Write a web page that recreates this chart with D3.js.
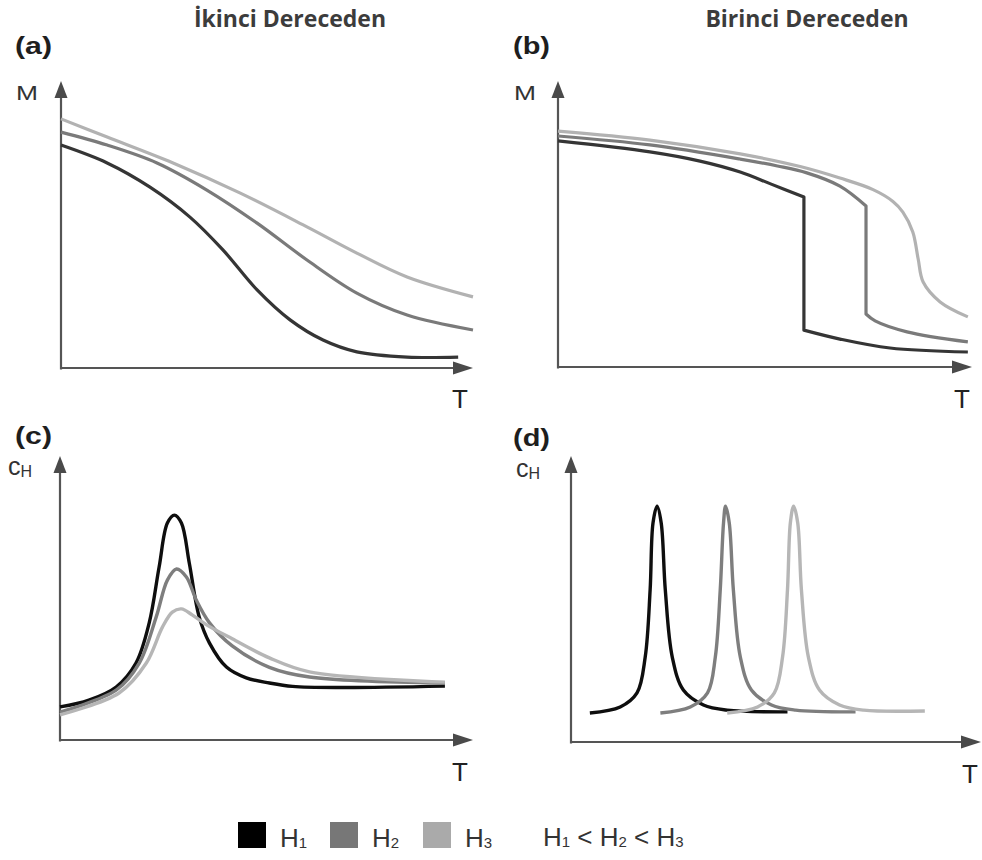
<!DOCTYPE html>
<html>
<head>
<meta charset="utf-8">
<script src="https://cdn.jsdelivr.net/npm/d3@7"></script>
<style>
  html, body { margin: 0; padding: 0; background: #ffffff; }
  svg { display: block; }
</style>
</head>
<body>
<svg id="chart" width="982" height="860"></svg>
<script>
// Field labels and their shades (H1 < H2 < H3)
const fields = ["H1", "H2", "H3"];
const shadesTop = ["#353535", "#7a7a7a", "#b2b2b2"];
const shadesBottom = ["#0e0e0e", "#7e7e7e", "#b6b6b6"];

// (a) second-order transition: M(T), pairs of [T, M]
const mSecondH1 = [[0, 7.74], [1.12, 7.12], [2.16, 6.28], [3.13, 5.24], [3.93, 4.10], [4.76, 2.71],
                   [5.56, 1.67], [6.36, 0.97], [7.18, 0.56], [8.40, 0.38], [9.64, 0.38]];
const mSecondH2 = [[0, 8.19], [1.12, 7.74], [2.33, 7.12], [3.54, 6.18], [4.76, 5.03], [5.97, 3.75],
                   [7.18, 2.60], [8.40, 1.84], [10, 1.32]];
const mSecondH3 = [[0, 8.65], [1.12, 8.02], [2.72, 7.12], [4.34, 6.08], [5.97, 4.90], [7.18, 3.99],
                   [8.40, 3.16], [10, 2.47]];

// (b) first-order transition: M(T) above and below the jump
const mFirstH1Upper = [[0, 7.85], [2.22, 7.47], [3.43, 7.15], [4.40, 6.77], [5.15, 6.35], [5.94, 5.90]];
const mFirstH1Lower = [[5.94, 1.28], [6.81, 0.97], [8.02, 0.66], [9.90, 0.52]];
const mFirstH2Upper = [[0, 8.02], [2.22, 7.71], [4.40, 7.22], [5.30, 6.98], [6.01, 6.74], [6.81, 6.28], [7.44, 5.59]];
const mFirstH2Lower = [[7.44, 1.84], [7.66, 1.60], [8.43, 1.22], [9.90, 0.87]];
const mFirstH3 = [[0, 8.19], [2.22, 7.88], [4.40, 7.40], [5.85, 6.96], [6.81, 6.56], [7.61, 6.16],
                  [8.09, 5.75], [8.33, 5.38], [8.57, 4.69], [8.70, 3.75], [8.82, 2.95], [9.23, 2.26],
                  [9.90, 1.74]];

// (c) second-order transition: heat capacity c_H(T)
const cSecondH1 = [[0, 1.16], [0.70, 1.40], [1.36, 1.86], [1.84, 2.70], [2.16, 4.11], [2.40, 6.07],
                   [2.60, 7.61], [2.77, 7.89], [2.94, 7.61], [3.13, 6.21], [3.37, 4.32], [3.62, 3.40],
                   [4.03, 2.56], [4.51, 2.18], [5.07, 2.00], [5.63, 1.88], [6.84, 1.84], [9.32, 1.89]];
const cSecondH2 = [[0, 0.98], [1.36, 1.75], [1.92, 2.70], [2.33, 4.32], [2.60, 5.61], [2.82, 6.00],
                   [3.06, 5.72], [3.30, 4.91], [3.62, 4.11], [4.17, 3.30], [5.07, 2.55], [6.04, 2.21],
                   [9.32, 2.00]];
const cSecondH3 = [[0, 0.88], [1.43, 1.65], [2.09, 2.70], [2.48, 3.96], [2.72, 4.49], [2.94, 4.60],
                   [3.20, 4.39], [3.54, 4.05], [4.17, 3.55], [5.07, 2.88], [6.04, 2.39], [9.32, 2.03]];

// (d) first-order transition: sharp c_H(T) peaks
const cFirstH1 = [[0.46, 1.01], [1.20, 1.22], [1.61, 1.71], [1.81, 2.96], [1.93, 5.30], [2.00, 7.63],
                  [2.10, 8.22], [2.20, 7.63], [2.30, 5.30], [2.47, 2.96], [2.74, 1.81], [3.23, 1.29],
                  [3.81, 1.11], [5.28, 1.05]];
const cFirstH2 = [[2.18, 1.01], [2.91, 1.22], [3.33, 1.71], [3.52, 2.96], [3.64, 5.30], [3.72, 7.63],
                  [3.77, 8.22], [3.86, 7.63], [3.96, 5.30], [4.13, 2.96], [4.40, 1.81], [4.89, 1.29],
                  [5.48, 1.11], [6.94, 1.05]];
const cFirstH3 = [[3.81, 1.01], [4.55, 1.22], [4.96, 1.71], [5.16, 2.96], [5.28, 5.30], [5.35, 7.63],
                  [5.43, 8.22], [5.53, 7.63], [5.62, 5.30], [5.79, 2.96], [6.06, 1.81], [6.55, 1.29],
                  [7.14, 1.11], [8.63, 1.08]];

// Text
const columnTitles = ["İkinci Dereceden", "Birinci Dereceden"];
const panelLetters = ["(a)", "(b)", "(c)", "(d)"];
const relationText = ["H", "1", " < H", "2", " < H", "3"];

const svg = d3.select("#chart");
const sans = "'Liberation Sans', Arial, Helvetica, sans-serif";
const axisColor = "#555555";

// Panel frames: axis origin and arrow tips
const panels = [
  { x0: 61,  x1: 473, y0: 368, y1: 81,  yTop: 80,  letter: 0, xLetter: 15,  yLetter: 54,  ylab: "M", ylabX: 16, ylabY: 100, tX: 452, tY: 408 },
  { x0: 558, x1: 972, y0: 367, y1: 81,  yTop: 79,  letter: 1, xLetter: 513, yLetter: 54,  ylab: "M", ylabX: 514, ylabY: 100, tX: 954, tY: 408 },
  { x0: 60,  x1: 473, y0: 740, y1: 456, yTop: 455, letter: 2, xLetter: 15,  yLetter: 444, ylab: "c", ylabX: 8, ylabY: 475, tX: 452, tY: 781 },
  { x0: 571, x1: 981, y0: 742, y1: 456, yTop: 455, letter: 3, xLetter: 513, yLetter: 446, ylab: "c", ylabX: 516, ylabY: 477, tX: 962, tY: 783 }
];

panels.forEach(p => {
  p.x = d3.scaleLinear().domain([0, 10]).range([p.x0, p.x1]);
  p.y = d3.scaleLinear().domain([0, 10]).range([p.y0, p.yTop]);
});

// Column titles
const titleX = [290, 807];
columnTitles.forEach((s, i) => {
  svg.append("text").attr("x", titleX[i]).attr("y", 27).attr("text-anchor", "middle")
    .style("font-family", "'Open Sans', 'Noto Sans', sans-serif").style("font-weight", 700)
    .style("font-size", "23px").attr("fill", "#3c3c3c").text(s);
});

// Axes with arrowheads
function drawAxes(p) {
  const g = svg.append("g");
  const xLen = 20, xHalf = 6.5, yLen = 17, yHalf = 6.5;
  const xa = d3.scaleLinear().range([p.x0 - 1, p.x1 - xLen + 2]);
  const ya = d3.scaleLinear().range([p.y0 + 1, p.y1 + yLen - 2]);
  const gx = g.append("g").attr("transform", `translate(0,${p.y0 - 0.5})`)
    .call(d3.axisBottom(xa).tickValues([]).tickSizeOuter(0));
  const gy = g.append("g").attr("transform", `translate(${p.x0 - 0.5},0)`)
    .call(d3.axisLeft(ya).tickValues([]).tickSizeOuter(0));
  [gx, gy].forEach(a => a.select(".domain").attr("stroke", axisColor).attr("stroke-width", 2.2));
  const tri = d3.line();
  g.append("path").attr("fill", "#4a4a4a")
    .attr("d", tri([[p.x1, p.y0], [p.x1 - xLen, p.y0 - xHalf], [p.x1 - xLen, p.y0 + xHalf]]) + "Z");
  g.append("path").attr("fill", "#4a4a4a")
    .attr("d", tri([[p.x0, p.y1], [p.x0 - yHalf, p.y1 + yLen], [p.x0 + yHalf, p.y1 + yLen]]) + "Z");

  // Panel letter
  svg.append("text").attr("x", p.xLetter).attr("y", p.yLetter)
    .style("font-family", sans).style("font-weight", 700).style("font-size", "24px")
    .attr("fill", "#1e1e1e").attr("textLength", 37).attr("lengthAdjust", "spacingAndGlyphs")
    .text(panelLetters[p.letter]);

  // Axis titles
  if (p.ylab === "M") {
    svg.append("text").attr("x", p.ylabX).attr("y", p.ylabY)
      .style("font-family", sans).style("font-size", "21px").attr("fill", "#333")
      .attr("textLength", 22).attr("lengthAdjust", "spacingAndGlyphs").text("M");
  } else {
    const t = svg.append("text").attr("x", p.ylabX).attr("y", p.ylabY)
      .style("font-family", sans).attr("fill", "#333");
    t.append("tspan").style("font-size", "25px").text("c");
    t.append("tspan").style("font-size", "16px").attr("dy", 2).text("H");
  }
  svg.append("text").attr("x", p.tX).attr("y", p.tY)
    .style("font-family", sans).style("font-size", "26px").attr("fill", "#222").text("T");
}
panels.forEach(drawAxes);

function lineFor(p) {
  return d3.line().x(d => p.x(d[0])).y(d => p.y(d[1])).curve(d3.curveCatmullRom.alpha(0.5));
}

function drawCurve(p, pieces, color, width) {
  const ln = lineFor(p);
  const d = pieces.map((pts, i) => i === 0 ? ln(pts) : ln(pts).replace(/^M/, "L")).join("");
  svg.append("path").attr("d", d).attr("fill", "none").attr("stroke", color)
    .attr("stroke-width", width).attr("stroke-linejoin", "round").attr("stroke-linecap", "butt");
}

// (a)
drawCurve(panels[0], [mSecondH1], shadesTop[0], 3.2);
drawCurve(panels[0], [mSecondH2], shadesTop[1], 3.2);
drawCurve(panels[0], [mSecondH3], shadesTop[2], 3.2);
// (b)
drawCurve(panels[1], [mFirstH1Upper, mFirstH1Lower], shadesTop[0], 3.2);
drawCurve(panels[1], [mFirstH2Upper, mFirstH2Lower], shadesTop[1], 3.2);
drawCurve(panels[1], [mFirstH3], shadesTop[2], 3.2);
// (c)
drawCurve(panels[2], [cSecondH1], shadesBottom[0], 3.4);
drawCurve(panels[2], [cSecondH2], shadesBottom[1], 3.4);
drawCurve(panels[2], [cSecondH3], shadesBottom[2], 3.4);
// (d)
drawCurve(panels[3], [cFirstH1], shadesBottom[0], 3.4);
drawCurve(panels[3], [cFirstH2], shadesBottom[1], 3.4);
drawCurve(panels[3], [cFirstH3], shadesBottom[2], 3.4);

// Legend
const legendSwatchX = [238, 330, 423];
const legendShades = ["#000000", "#777777", "#aaaaaa"];
const legend = svg.append("g");
fields.forEach((f, i) => {
  legend.append("rect").attr("x", legendSwatchX[i]).attr("y", 822).attr("width", 28).attr("height", 26)
    .attr("fill", legendShades[i]);
  const t = legend.append("text").attr("x", legendSwatchX[i] + 42).attr("y", 847)
    .style("font-family", sans).attr("fill", "#333");
  t.append("tspan").style("font-size", "26px").text(f[0]);
  t.append("tspan").style("font-size", "15px").attr("dy", 1).text(f[1]);
});
const rel = legend.append("text").attr("x", 543).attr("y", 847)
  .style("font-family", sans).attr("fill", "#333");
relationText.forEach((s, i) => {
  const isSub = i % 2 === 1;
  rel.append("tspan").style("font-size", isSub ? "15px" : "26px")
    .attr("dy", isSub ? 1 : -1).text(s);
});
</script>
</body>
</html>
